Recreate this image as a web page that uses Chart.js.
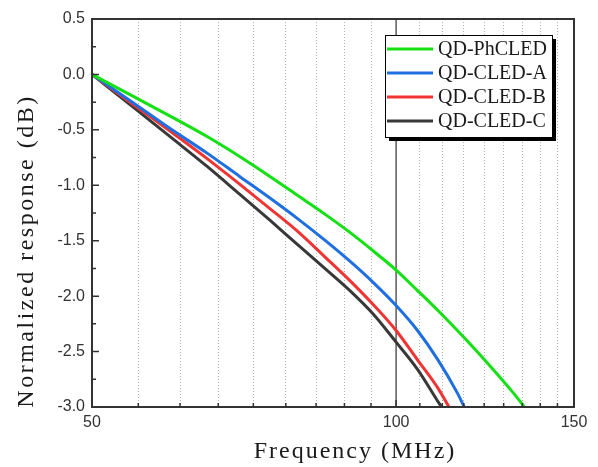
<!DOCTYPE html>
<html>
<head>
<meta charset="utf-8">
<script src="https://cdn.jsdelivr.net/npm/chart.js@4.4.1/dist/chart.umd.min.js"></script>
<style>
  html, body { margin: 0; padding: 0; background: #fff; }
  canvas { display: block; }
</style>
</head>
<body>
<canvas id="chart" width="598" height="467"></canvas>
<script>
// Frequency grid (MHz) shared by all curves
const freqMHz = [50, 55, 60, 65, 70, 75, 80, 85, 90, 95, 100, 105, 110, 115, 120, 125, 130];

// Normalized response (dB) of each device
const seriesNames = ['QD-PhCLED', 'QD-CLED-A', 'QD-CLED-B', 'QD-CLED-C'];
const qdPhCLED = [0, -0.20, -0.385, -0.56, -0.74, -0.92, -1.095, -1.26, -1.425, -1.595, -1.765, -1.95, -2.13, -2.31, -2.49, -2.67, -2.85];
const qdCLEDA  = [0, -0.26, -0.50, -0.71, -0.92, -1.115, -1.305, -1.495, -1.685, -1.88, -2.085, -2.31, -2.575, -2.875];
const qdCLEDB  = [0, -0.275, -0.525, -0.76, -0.99, -1.21, -1.42, -1.645, -1.86, -2.08, -2.31, -2.575, -2.83];
const qdCLEDC  = [0, -0.30, -0.575, -0.83, -1.08, -1.315, -1.54, -1.75, -1.95, -2.165, -2.415, -2.66, -2.95];

// Frequency where each curve reaches the bottom of the plot (-3 dB)
const cutoffMHz = [134.0, 116.8, 112.8, 110.9];
const cutoffDB = -3.0;

const seriesColors = ['#14e014', '#1f6fe0', '#f03434', '#383838'];

// Axis ticks
const xMajorTicks = [50, 100, 150];
const xMinorTicks = [55.56, 61.11, 66.67, 72.22, 77.78, 83.33, 88.89, 94.44,
                     105.56, 111.11, 116.67, 122.22, 127.78, 133.33, 138.89, 144.44];
const yMajorTicks = [0.5, 0.0, -0.5, -1.0, -1.5, -2.0, -2.5, -3.0];
const yMinorTicks = [0.25, -0.25, -0.75, -1.25, -1.75, -2.25, -2.75];

const allSeries = [qdPhCLED, qdCLEDA, qdCLEDB, qdCLEDC];

const datasets = allSeries.map((vals, i) => ({
  label: seriesNames[i],
  data: vals.map((v, j) => ({ x: freqMHz[j], y: v })).concat([{ x: cutoffMHz[i], y: cutoffDB }]),
  borderColor: seriesColors[i],
  backgroundColor: seriesColors[i],
  borderWidth: 3,
  pointRadius: 0,
  cubicInterpolationMode: 'monotone',
  fill: false
}));

const AXIS = '#333333';
const tickFont = { family: '"Liberation Sans", Arial, sans-serif', size: 16 };

const decor = {
  id: 'decor',
  beforeDatasetsDraw(chart) {
    const { ctx, chartArea: a, scales: { x } } = chart;
    const px = x.getPixelForValue(100);
    ctx.save();
    ctx.strokeStyle = '#5a5a5a';
    ctx.lineWidth = 1.5;
    ctx.beginPath();
    ctx.moveTo(px, a.top);
    ctx.lineTo(px, a.bottom);
    ctx.stroke();
    ctx.restore();
  },
  afterDatasetsDraw(chart) {
    const { ctx, chartArea: a, scales: { x, y } } = chart;
    ctx.save();
    ctx.strokeStyle = AXIS;
    ctx.lineWidth = 2;
    ctx.strokeRect(a.left, a.top, a.right - a.left, a.bottom - a.top);
    ctx.lineWidth = 1.5;
    ctx.beginPath();
    // inward ticks on the bottom axis
    xMajorTicks.forEach(v => {
      const px = x.getPixelForValue(v);
      ctx.moveTo(px, a.bottom); ctx.lineTo(px, a.bottom - 7);
    });
    xMinorTicks.forEach(v => {
      const px = x.getPixelForValue(v);
      ctx.moveTo(px, a.bottom); ctx.lineTo(px, a.bottom - 4);
    });
    // inward ticks on the left axis
    yMajorTicks.forEach(v => {
      const py = y.getPixelForValue(v);
      ctx.moveTo(a.left, py); ctx.lineTo(a.left + 7, py);
    });
    yMinorTicks.forEach(v => {
      const py = y.getPixelForValue(v);
      ctx.moveTo(a.left, py); ctx.lineTo(a.left + 4, py);
    });
    ctx.stroke();
    ctx.restore();
  },
  afterDraw(chart) {
    const { ctx } = chart;
    ctx.save();
    // axis titles
    ctx.fillStyle = '#1a1a1a';
    ctx.font = '24px "Liberation Serif", "Times New Roman", serif';
    ctx.letterSpacing = '2px';
    ctx.textAlign = 'center';
    ctx.textBaseline = 'middle';
    ctx.fillText('Frequency (MHz)', 355, 452);
    ctx.save();
    ctx.translate(27, 251);
    ctx.rotate(-Math.PI / 2);
    ctx.letterSpacing = '2.5px';
    ctx.fillText('Normalized response (dB)', 0, 0);
    ctx.restore();
    ctx.letterSpacing = '0px';

    // legend box with drop shadow
    const bx = 385, by = 35, bw = 167, bh = 102;
    ctx.fillStyle = '#000';
    ctx.fillRect(bx + 4, by + 4, bw, bh);
    ctx.fillStyle = '#fff';
    ctx.fillRect(bx, by, bw, bh);
    ctx.strokeStyle = '#000';
    ctx.lineWidth = 1;
    ctx.strokeRect(bx + 0.5, by + 0.5, bw, bh);
    ctx.font = '20px "Liberation Serif", "Times New Roman", serif';
    ctx.textAlign = 'left';
    chart.data.datasets.forEach((ds, i) => {
      const ry = by + 14 + i * 24;
      ctx.strokeStyle = ds.borderColor;
      ctx.lineWidth = 3;
      ctx.beginPath();
      ctx.moveTo(bx + 2, ry);
      ctx.lineTo(bx + 48, ry);
      ctx.stroke();
      ctx.fillStyle = '#1a1a1a';
      ctx.fillText(ds.label, bx + 53, ry + 1);
    });
    ctx.restore();
  }
};

new Chart(document.getElementById('chart'), {
  type: 'line',
  data: { datasets },
  options: {
    responsive: false,
    animation: false,
    devicePixelRatio: 1,
    layout: { padding: { left: 0, right: 24, top: 19, bottom: 0 } },
    plugins: { legend: { display: false }, tooltip: { enabled: false } },
    scales: {
      x: {
        type: 'logarithmic',
        min: 50,
        max: 150,
        afterBuildTicks: s => { s.ticks = xMajorTicks.concat(xMinorTicks).sort((a, b) => a - b).map(v => ({ value: v })); },
        afterFit: s => { s.height = 60; },
        ticks: {
          autoSkip: false, maxRotation: 0, minRotation: 0, padding: 6,
          font: tickFont, color: AXIS,
          callback: v => xMajorTicks.includes(v) ? String(v) : ''
        },
        grid: {
          drawTicks: false,
          lineWidth: 1,
          color: c => (c.tick && xMajorTicks.includes(c.tick.value)) ? 'rgba(0,0,0,0)' : '#b4b4b4'
        },
        border: { display: false, dash: [1, 2] }
      },
      y: {
        min: -3,
        max: 0.5,
        afterBuildTicks: s => { s.ticks = yMajorTicks.map(v => ({ value: v })); },
        afterFit: s => { s.width = 92; },
        ticks: {
          padding: 7, font: tickFont, color: AXIS,
          callback: v => Number(v).toFixed(1)
        },
        grid: { display: false, drawTicks: false },
        border: { display: false }
      }
    }
  },
  plugins: [decor]
});
</script>
</body>
</html>
